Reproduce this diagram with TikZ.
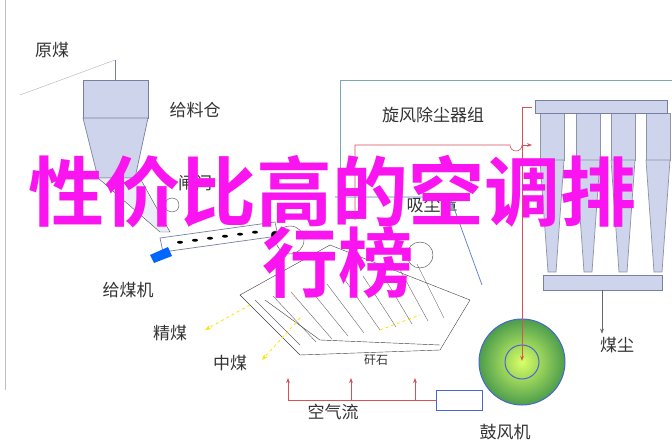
\documentclass[tikz,border=0pt]{standalone}
\usepackage{fontspec}
\newfontfamily\cjk{Noto Sans CJK SC}
\newfontfamily\cjkb{Noto Sans CJK SC Bold}
\usetikzlibrary{arrows.meta}
\definecolor{metal}{RGB}{205,212,235}
\definecolor{metald}{RGB}{120,128,160}
\definecolor{redl}{RGB}{215,80,90}
\definecolor{teal}{RGB}{120,170,175}
\definecolor{mag}{RGB}{250,20,240}
\tikzset{lbl/.style={font=\cjk\fontsize{17}{17}\selectfont,text=black!80},
 part/.style={draw=metald,fill=metal,line width=0.7pt},
 air/.style={draw=redl,line width=0.6pt,-{Stealth[length=5pt]}},
 big/.style={font=\cjkb\fontsize{76}{76}\selectfont,text=mag,inner sep=0pt}}
\begin{document}
\begin{tikzpicture}[x=1pt,y=-1pt]
\useasboundingbox (0,0) rectangle (672,446);
\fill[white] (0,0) rectangle (672,446);
\draw[black!25] (5,0) -- (5,390);
% raw coal
\node[lbl] (yuanmei) at (52,50) {原煤};
\coordinate (c1) at (20,95); \coordinate (c2) at (115,60); \coordinate (c3) at (115,97);
\draw[black!30] (c1) -- (c2);
\draw[metald,-{Stealth[length=5pt]}] (c2) -- (c3);
% hopper
\draw[part] (83,80) rectangle (148,118);
\draw[part] (83,118) -- (148,118) -- (135,178) -- (98,178) -- cycle;
\node[lbl] (cang) at (195,110) {给料仓};
\node[lbl] (zha) at (195,183) {闸门};
\draw[black!70,fill=metal!40] (98,178) -- (140,178) -- (170,232) -- (160,232) -- cycle;
\draw[black!70] (172,205) circle (7);
% feeder
\draw[part,fill=white] (160,238) -- (275,222) -- (278,236) -- (163,252) -- cycle;
\foreach \x in {180,195,210,225,240,255} \fill[black] (\x,{245-(\x-160)*0.135}) ellipse (3 and 1.5);
\fill[blue!60!cyan] (150,255) -- (168,247) -- (172,256) -- (154,263) -- cycle;
\node[lbl] (geimei) at (128,290) {给煤机};
% separator table
\draw[black!75,fill=white] (240,295) -- (330,245) -- (470,300) -- (440,350) -- (300,355) -- cycle;
\foreach \i in {0,...,9} \draw[black!60] ({255+\i*18},{300-\i*4}) -- ({300+\i*16},{345-\i*3});
\draw[black!75] (290,240) circle (14);
\draw[black!75] (420,255) circle (13);
\draw[black!75] (265,300) -- (320,340) -- (440,345);
\draw[black!75,fill=black] (275,235) circle (4);
% yellow arrows
\draw[yellow!85!orange,dashed,line width=0.8pt,-{Stealth[length=6pt]}] (250,305) -- (205,330);
\draw[yellow!85!orange,dashed,line width=0.8pt,-{Stealth[length=6pt]}] (300,318) -- (262,360);
\draw[yellow!85!orange,dashed,line width=0.8pt] (380,330) -- (420,315);
\node[lbl] (jing) at (170,333) {精煤};
\node[lbl] (zhong) at (230,363) {中煤};
\node[lbl,font=\cjk\fontsize{12}{12}\selectfont] (gan) at (376,360) {矸石};
% hood
\node[lbl] (xi) at (432,205) {吸尘罩};
\draw[teal!70!blue,line width=0.7pt] (335,197) -- (450,197) -- (482,285);
\draw[teal,line width=0.7pt] (340,197) -- (340,80) -- (672,80);
% air
\node[lbl] (kong) at (333,412) {空气流};
\coordinate (a0) at (288,400); \coordinate (a1) at (351,400); \coordinate (a2) at (415,400);
\draw[redl,line width=0.6pt] (a0) -- (436,400);
\draw[air] (a0) -- (288,378); \draw[air] (a1) -- (351,378); \draw[air] (a2) -- (415,378);
% fan
\draw[blue!40!teal,line width=1pt,fill=white] (436,390) rectangle (482,410);
\shade[inner color=green!25!yellow!60,outer color=green!45!black!70] (522,362) circle (43);
\draw[blue!40!teal,line width=1pt] (522,362) circle (43);
\draw[blue!40!teal,line width=1pt] (522,362) circle (17);
\node[lbl] (fan) at (505,432) {鼓风机};
\node[circle,inner sep=0pt,minimum size=2pt] (fanc) at (522,362) {};
% red lines
\draw[redl,line width=0.6pt] (355,220) -- (355,145) -- (510,145) arc (180:0:6) -- (522,145);
\draw[air] (522,145) -- (532,145);
\draw[redl,line width=0.6pt] (532,107) -- (522,107);
\draw[air] (522,107) -- (fanc);
% cyclones
\foreach \x in {552,588,623,658} {
 \draw[part,draw=metal!70!black] (\x-12,113) rectangle (\x+12,160);
 \draw[part,draw=metal!70!black] (\x-12,160) -- (\x+12,160) -- (\x+4,272) -- (\x-4,272) -- cycle;}
\draw[part] (535,100) rectangle (667,113);
\draw[part] (543,275) rectangle (662,290);
\node[lbl] (cyc) at (433,115) {旋风除尘器组};
\node[lbl] (dust) at (617,345) {煤尘};
\draw[black!60,-{Stealth[length=5pt]}] (602,290) -- (dust.north -| 602,0);
% overlay text
\node[big,anchor=west] (t1) at (28,192) {性价比高的空调排};
\node[big] (t2) at (338,262) {行榜};
\end{tikzpicture}
\end{document}
